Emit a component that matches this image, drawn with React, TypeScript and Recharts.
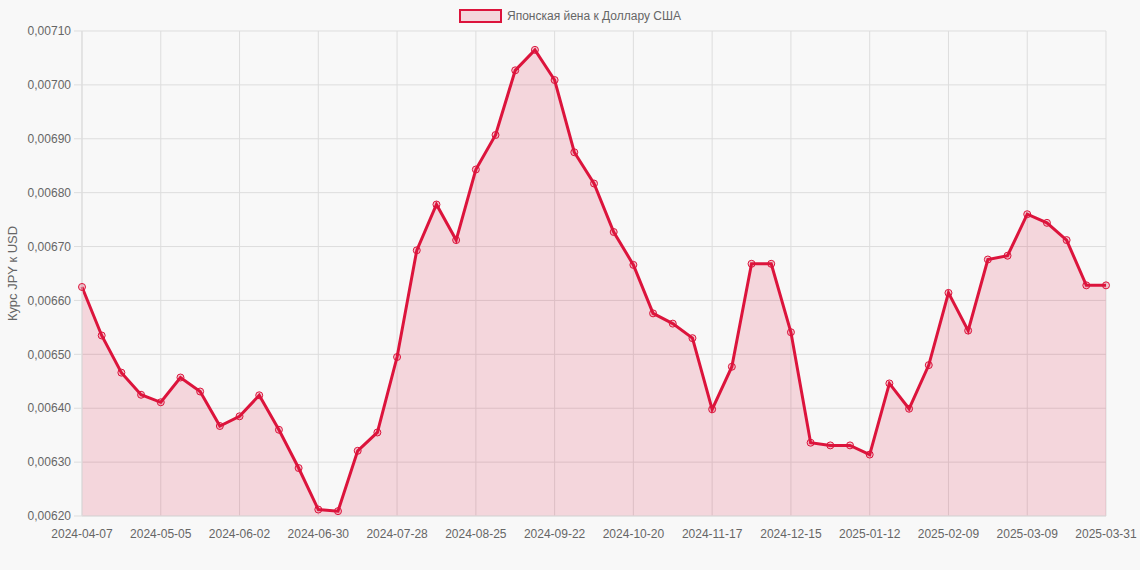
import { AreaChart, Area, XAxis, YAxis, CartesianGrid } from "recharts";

const dates = [
  "2024-04-07", "2024-04-14", "2024-04-21", "2024-04-28",
  "2024-05-05", "2024-05-12", "2024-05-19", "2024-05-26",
  "2024-06-02", "2024-06-09", "2024-06-16", "2024-06-23",
  "2024-06-30", "2024-07-07", "2024-07-14", "2024-07-21",
  "2024-07-28", "2024-08-04", "2024-08-11", "2024-08-18",
  "2024-08-25", "2024-09-01", "2024-09-08", "2024-09-15",
  "2024-09-22", "2024-09-29", "2024-10-06", "2024-10-13",
  "2024-10-20", "2024-10-27", "2024-11-03", "2024-11-10",
  "2024-11-17", "2024-11-24", "2024-12-01", "2024-12-08",
  "2024-12-15", "2024-12-22", "2024-12-29", "2025-01-05",
  "2025-01-12", "2025-01-19", "2025-01-26", "2025-02-02",
  "2025-02-09", "2025-02-16", "2025-02-23", "2025-03-02",
  "2025-03-09", "2025-03-16", "2025-03-23", "2025-03-30",
  "2025-03-31",
];

const rates = [
  0.006625, 0.006535, 0.006466, 0.006425,
  0.006411, 0.006457, 0.006431, 0.006367,
  0.006385, 0.006424, 0.00636, 0.006289,
  0.006212, 0.006209, 0.006321, 0.006355,
  0.006495, 0.006693, 0.006778, 0.006712,
  0.006843, 0.006907, 0.007027, 0.007065,
  0.007009, 0.006875, 0.006817, 0.006727,
  0.006666, 0.006576, 0.006557, 0.00653,
  0.006398, 0.006477, 0.006668, 0.006668,
  0.006541, 0.006336, 0.006331, 0.006331,
  0.006314, 0.006446, 0.006399, 0.00648,
  0.006614, 0.006544, 0.006676, 0.006683,
  0.00676, 0.006744, 0.006712, 0.006628,
  0.006628,
];

const yTicks = [0.0062, 0.0063, 0.0064, 0.0065, 0.0066, 0.0067, 0.0068, 0.0069, 0.007, 0.0071];

const seriesName = "Японская йена к Доллару США";
const yTitle = "Курс JPY к USD";

const RED = "#dc143c";
const FILL = "rgba(220, 20, 60, 0.15)";
const TEXT = "#666";
const GRID = "#dddddd";
const FONT = "'Liberation Sans', Arial, Helvetica, sans-serif";

const data = dates.map((d, i) => ({ date: d, rate: rates[i] }));
const xTicks = dates.filter((_, i) => i % 4 === 0);

const fmtRate = (v: number) => v.toFixed(5).replace(".", ",");

function YTitle({ viewBox }: any) {
  const cy = viewBox.y + viewBox.height / 2;
  return (
    <text
      x={12}
      y={cy}
      transform={`rotate(-90 12 ${cy})`}
      textAnchor="middle"
      dominantBaseline="central"
      fill={TEXT}
      fontSize={13}
      fontFamily={FONT}
    >
      {yTitle}
    </text>
  );
}

export default function App() {
  return (
    <div
      style={{
        position: "absolute", left: 0, top: 0, width: 1140, height: 570,
        background: "#f8f8f8", fontFamily: FONT,
      }}
    >
      <div
        style={{
          position: "absolute", top: 9, left: 0, width: 1140,
          display: "flex", justifyContent: "center", alignItems: "center", gap: 5,
        }}
      >
        <span style={{ width: 43, height: 14, boxSizing: "border-box", border: `2px solid ${RED}`, background: FILL }} />
        <span style={{ fontSize: 12, color: TEXT, lineHeight: "14px" }}>{seriesName}</span>
      </div>

      <AreaChart width={1140} height={570} data={data} margin={{ top: 31, right: 34, bottom: 0, left: 0 }}>
        <CartesianGrid stroke={GRID} />
        <XAxis
          dataKey="date"
          ticks={xTicks}
          interval={0}
          tickLine={false}
          tickSize={8}
          tickMargin={5}
          height={54}
          axisLine={{ stroke: GRID }}
          tick={{ fill: TEXT, fontSize: 12, fontFamily: FONT }}
        />
        <YAxis
          width={82}
          domain={[0.0062, 0.0071]}
          ticks={yTicks}
          allowDataOverflow
          tickFormatter={fmtRate}
          tickSize={8}
          tickMargin={3}
          tickLine={{ stroke: GRID }}
          axisLine={{ stroke: GRID }}
          tick={{ fill: TEXT, fontSize: 12, fontFamily: FONT }}
          label={<YTitle />}
        />
        <Area
          type="linear"
          dataKey="rate"
          stroke={RED}
          strokeWidth={3}
          fill={FILL}
          fillOpacity={1}
          dot={{ r: 3.5, stroke: RED, strokeWidth: 1, fill: "rgba(220, 20, 60, 0.2)" }}
          activeDot={false}
          isAnimationActive={false}
        />
      </AreaChart>
    </div>
  );
}
